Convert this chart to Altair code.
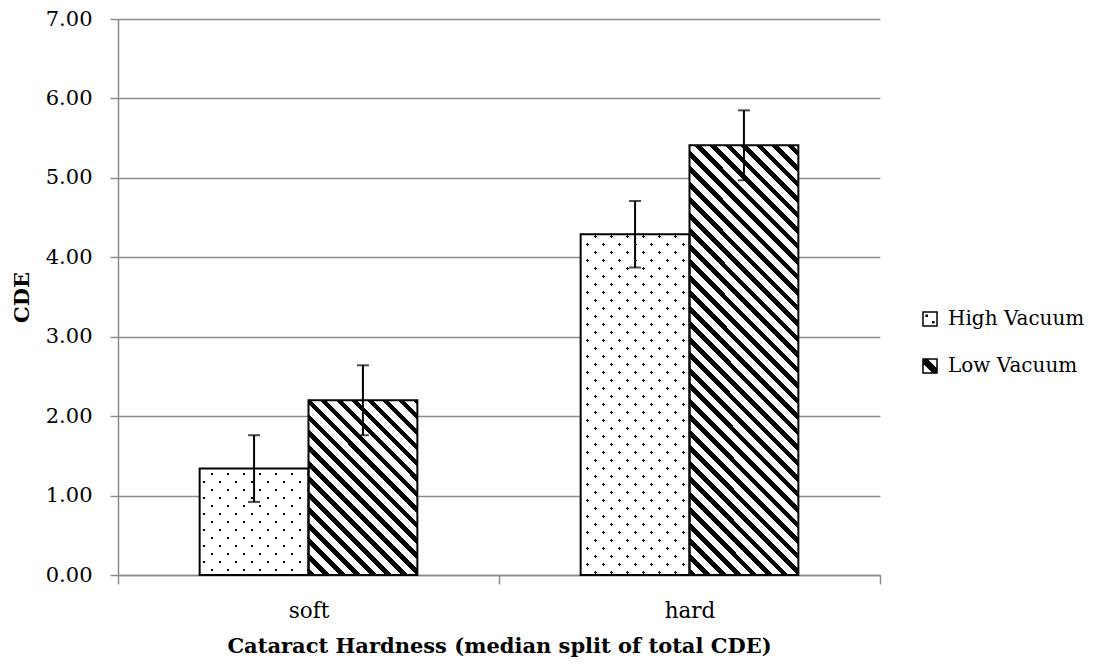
import altair as alt
import pandas as pd

# ---- data ----
categories = ["soft", "hard"]
series = ["High Vacuum", "Low Vacuum"]
high_mean = [1.34, 4.29]
high_lo = [0.92, 3.87]
high_hi = [1.76, 4.71]
low_mean = [2.20, 5.41]
low_lo = [1.76, 4.97]
low_hi = [2.64, 5.85]

rows = []
for i, c in enumerate(categories):
    rows.append(dict(cat=c, series=series[0], mean=high_mean[i], lo=high_lo[i], hi=high_hi[i]))
    rows.append(dict(cat=c, series=series[1], mean=low_mean[i], lo=low_lo[i], hi=low_hi[i]))
df = pd.DataFrame(rows)

# ---- layout ----
W, H = 762, 556
YMAX = 7.0
PAD_OUTER = 0.75
BAR_W = W / len(categories) / (len(series) + 2 * PAD_OUTER)
FONT = "DejaVu Serif"
FS = 21
GRAY = "#8c8c8c"


def stripes(w, h, period, band, diag, on, off):
    """linear gradient producing 45 degree stripes on a w x h box"""
    span = w + h
    s = span / (w * w + h * h)
    if diag == "back":   # '\' stripes
        x1, y1, x2, y2 = 0, 1, s * w, 1 - s * h
    else:                # '/' stripes
        x1, y1, x2, y2 = 0, 0, s * w, s * h
    stops = []
    k = 0
    while k * period < span:
        a = k * period / span
        b = min((k * period + band) / span, 1.0)
        n = min((k + 1) * period / span, 1.0)
        stops += [dict(offset=round(a, 5), color=on), dict(offset=round(b, 5), color=on),
                  dict(offset=round(b, 5), color=off), dict(offset=round(n, 5), color=off)]
        k += 1
    return dict(gradient="linear", x1=round(x1, 5), y1=round(y1, 5),
                x2=round(x2, 5), y2=round(y2, 5), stops=stops)


x_enc = alt.X("cat:N", scale=alt.Scale(domain=categories, paddingInner=0, paddingOuter=0),
              axis=alt.Axis(title="Cataract Hardness (median split of total CDE)", labelAngle=0,
                            tickBand="extent", domainColor=GRAY, domainWidth=1.5,
                            tickColor=GRAY, tickWidth=1.5, tickSize=9,
                            labelFont=FONT, labelFontSize=21.5, labelColor="black",
                            labelBaseline="alphabetic", labelPadding=33,
                            titleFont=FONT, titleFontSize=21, titleFontWeight="bold",
                            titleColor="black", titleX=W / 2, titleY=77,
                            titleBaseline="alphabetic"))
xo_enc = alt.XOffset("series:N", scale=alt.Scale(domain=series, paddingInner=0, paddingOuter=PAD_OUTER))
y_enc = alt.Y("mean:Q", scale=alt.Scale(domain=[0, YMAX], nice=False),
              axis=alt.Axis(values=list(range(8)), format=".2f", grid=True, gridColor=GRAY,
                            gridWidth=1.5, domainColor=GRAY, domainWidth=1.5, tickColor=GRAY,
                            tickWidth=1.5, tickSize=8, labelFont=FONT, labelFontSize=FS,
                            labelColor="black", labelPadding=18, title="CDE",
                            titleFont=FONT, titleFontSize=21, titleFontWeight="bold",
                            titleColor="black", titleAngle=270, titleX=-96, titleY=H / 2,
                            titleBaseline="middle", titleAlign="center"))

base = alt.Chart(df)

path_high = ("M-1,-1H1V1H-1Z M-0.55,-0.55h0.15v0.15h-0.15Z M0.4,0.4h0.15v0.15h-0.15Z")
path_low = ("M-1,-1H1V1H-1Z M-1,-1L1,1 M-1,-0.5L0.5,1 M-0.5,-1L1,0.5 M-0.75,-1L1,0.75 M-1,-0.75L0.75,1")

legend_layer = base.mark_point(filled=False, color="black", strokeWidth=1.5, size=196, opacity=1).encode(
    x=x_enc, xOffset=xo_enc, y=alt.datum(0.5),
    shape=alt.Shape("series:N", scale=alt.Scale(domain=series, range=[path_high, path_low]),
                    legend=alt.Legend(title=None, orient="none", legendX=802, legendY=290,
                                      symbolSize=196, symbolStrokeWidth=1.5,
                                      symbolStrokeColor="black", symbolOpacity=1,
                                      labelFont=FONT, labelFontSize=20, labelColor="black",
                                      labelOffset=8, rowPadding=27, padding=0)),
)

layers = [legend_layer]
for i, c in enumerate(categories):
    for j, s in enumerate(series):
        v = df[(df.cat == c) & (df.series == s)]["mean"].iloc[0]
        h = v * H / YMAX
        flt = (alt.datum.cat == c) & (alt.datum.series == s)
        if j == 0:
            g1 = stripes(BAR_W, h, 16, 3, "back", "black", "white")
            g2 = stripes(BAR_W, h, 16, 3, "fwd", "rgba(255,255,255,0)", "white")
            layers.append(base.transform_filter(flt).mark_bar(fill=g1, strokeWidth=0).encode(
                x=x_enc, xOffset=xo_enc, y=y_enc))
            layers.append(base.transform_filter(flt).mark_bar(fill=g2, strokeWidth=0).encode(
                x=x_enc, xOffset=xo_enc, y=y_enc))
        else:
            g = stripes(BAR_W, h, 15.5, 6.5, "back", "black", "white")
            layers.append(base.transform_filter(flt).mark_bar(fill=g, strokeWidth=0).encode(
                x=x_enc, xOffset=xo_enc, y=y_enc))

outline = base.mark_bar(fill="transparent", stroke="black", strokeWidth=2).encode(
    x=x_enc, xOffset=xo_enc, y=y_enc)
err = base.mark_rule(color="black", strokeWidth=2).encode(
    x=x_enc, xOffset=xo_enc, y="lo:Q", y2="hi:Q")
cap_lo = base.mark_tick(color="black", thickness=2, size=12).encode(
    x=x_enc, xOffset=xo_enc, y="lo:Q")
cap_hi = base.mark_tick(color="black", thickness=2, size=12).encode(
    x=x_enc, xOffset=xo_enc, y="hi:Q")

layers += [outline, err, cap_lo, cap_hi]

chart = alt.layer(*layers).properties(
    width=W, height=H,
    autosize=alt.AutoSizeParams(type="none"),
    padding={"left": 110, "top": 11, "right": 208, "bottom": 82},
    background="white",
).configure_view(stroke=None)

chart.save("out.html", embed_options={"renderer": "svg", "actions": False})
